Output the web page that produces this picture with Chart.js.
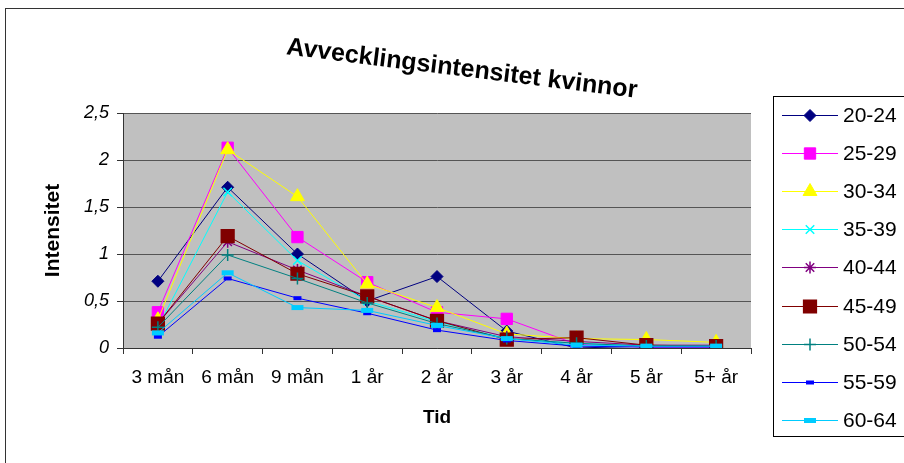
<!DOCTYPE html>
<html>
<head>
<meta charset="utf-8">
<script src="https://cdn.jsdelivr.net/npm/chart.js@4"></script>
<style>
  html, body { margin: 0; padding: 0; background: #fff; }
  canvas { display: block; }
</style>
</head>
<body>
<canvas id="myChart" width="904" height="463"></canvas>
<script>
// data
const categories = ['3 mån', '6 mån', '9 mån', '1 år', '2 år', '3 år', '4 år', '5 år', '5+ år'];
const seriesNames = ['20-24', '25-29', '30-34', '35-39', '40-44', '45-49', '50-54', '55-59', '60-64'];
const age2024 = [0.71, 1.71, 1.00, 0.50, 0.76, 0.18, 0.00, 0.02, 0.02];
const age2529 = [0.38, 2.13, 1.18, 0.70, 0.38, 0.31, 0.04, 0.01, 0.01];
const age3034 = [0.30, 2.11, 1.61, 0.68, 0.43, 0.15, 0.10, 0.09, 0.06];
const age3539 = [0.22, 1.66, 0.93, 0.50, 0.28, 0.10, 0.05, 0.02, 0.02];
const age4044 = [0.26, 1.13, 0.83, 0.55, 0.29, 0.12, 0.07, 0.03, 0.03];
const age4549 = [0.26, 1.19, 0.79, 0.55, 0.29, 0.09, 0.11, 0.03, 0.02];
const age5054 = [0.22, 0.99, 0.74, 0.48, 0.26, 0.10, 0.05, 0.02, 0.02];
const age5559 = [0.12, 0.74, 0.53, 0.37, 0.19, 0.08, 0.02, 0.01, 0.01];
const age6064 = [0.16, 0.80, 0.43, 0.40, 0.24, 0.10, 0.03, 0.02, 0.02];
const yTicks = [0, 0.5, 1, 1.5, 2, 2.5];

const seriesValues = [age2024, age2529, age3034, age3539, age4044, age4549, age5054, age5559, age6064];
const colors = ['#000080', '#FF00FF', '#FFFF00', '#00FFFF', '#800080', '#800000', '#008080', '#0000FF', '#00CCFF'];
const markers = [
    { style: 'rectRot', r: 6, bw: 1 },
    { style: 'rect', r: 8, bw: 1 },
    { style: 'triangle', r: 8, bw: 1 },
    { style: 'crossRot', r: 6, bw: 1.5 },
    { style: 'star', r: 6, bw: 1.5 },
    { style: 'rect', r: 9, bw: 1.5 },
    { style: 'cross', r: 6, bw: 1.5 },
    { style: 'line', r: 4, bw: 4 },
    { style: 'line', r: 6, bw: 5 }
];

const FONT = '"Liberation Sans", Arial, sans-serif';

// gray plot area + outer frame
const backdrop = {
    id: 'backdrop',
    beforeDraw(chart) {
        const { ctx, chartArea: a } = chart;
        ctx.save();
        ctx.fillStyle = '#fff';
        ctx.fillRect(0, 0, chart.width, chart.height);
        ctx.fillStyle = '#C0C0C0';
        ctx.fillRect(a.left, a.top, a.right - a.left, a.bottom - a.top);
        ctx.strokeStyle = '#333';
        ctx.lineWidth = 1;
        ctx.strokeRect(5.5, 8.5, 1000, 1000);
        ctx.restore();
    }
};

// tilted title
const tiltedTitle = {
    id: 'tiltedTitle',
    afterDraw(chart) {
        const ctx = chart.ctx;
        ctx.save();
        ctx.translate(461, 76);
        ctx.rotate(Math.atan2(45, 363));
        ctx.font = 'bold 25px ' + FONT;
        ctx.fillStyle = '#000';
        ctx.textAlign = 'center';
        ctx.textBaseline = 'alphabetic';
        ctx.fillText('Avvecklingsintensitet kvinnor', 0, 0);
        ctx.restore();
    }
};

// excel style legend box on the right
const sideLegend = {
    id: 'sideLegend',
    afterDraw(chart) {
        const ctx = chart.ctx;
        ctx.save();
        ctx.strokeStyle = '#000';
        ctx.lineWidth = 1;
        ctx.strokeRect(773.5, 96.5, 200, 340);
        ctx.font = '21px ' + FONT;
        ctx.textBaseline = 'middle';
        ctx.textAlign = 'left';
        chart.data.datasets.forEach((ds, i) => {
            const y = Math.round(115 + i * 38.1) + 0.5;
            ctx.strokeStyle = ds.borderColor;
            ctx.lineWidth = 1;
            ctx.beginPath();
            ctx.moveTo(782, y);
            ctx.lineTo(838, y);
            ctx.stroke();
            ctx.fillStyle = ds.pointBackgroundColor;
            ctx.strokeStyle = ds.pointBorderColor;
            ctx.lineWidth = ds.pointBorderWidth;
            Chart.helpers.drawPoint(ctx, {
                pointStyle: ds.pointStyle,
                radius: ds.pointRadius,
                borderWidth: ds.pointBorderWidth,
                rotation: 0
            }, 810, y);
            ctx.fillStyle = '#000';
            ctx.fillText(ds.label, 843, y + 1);
        });
        ctx.restore();
    }
};

const datasets = seriesNames.map((name, i) => ({
    label: name,
    data: seriesValues[i],
    borderColor: colors[i],
    backgroundColor: colors[i],
    borderWidth: 1,
    pointStyle: markers[i].style,
    pointRadius: markers[i].r,
    pointBackgroundColor: colors[i],
    pointBorderColor: colors[i],
    pointBorderWidth: markers[i].bw,
    tension: 0,
    order: seriesNames.length - i // later series on top, like Excel
}));

const ctx = document.getElementById('myChart').getContext('2d');
const myChart = new Chart(ctx, {
    type: 'line',
    data: { labels: categories, datasets: datasets },
    plugins: [backdrop, tiltedTitle, sideLegend],
    options: {
        responsive: false,
        animation: false,
        devicePixelRatio: 1,
        layout: { padding: { left: 5, right: 153, top: 113, bottom: 0 } },
        plugins: {
            legend: { display: false },
            tooltip: { enabled: false },
            title: { display: false }
        },
        scales: {
            x: {
                offset: true,
                grid: {
                    offset: true,
                    drawOnChartArea: false,
                    tickLength: 6,
                    tickColor: '#333'
                },
                border: { color: '#333', width: 1 },
                ticks: {
                    color: '#000',
                    padding: 12,
                    maxRotation: 0,
                    autoSkip: false,
                    font: { family: FONT, size: 19 }
                },
                title: {
                    display: true,
                    text: 'Tid',
                    color: '#000',
                    padding: { top: 0, bottom: 34 },
                    font: { family: FONT, size: 19, weight: 'bold' }
                },
                afterFit(scale) { scale.height = 115; }
            },
            y: {
                min: 0,
                max: 2.5,
                afterBuildTicks(scale) { scale.ticks = yTicks.map(v => ({ value: v })); },
                grid: {
                    color: '#555',
                    lineWidth: 1,
                    tickLength: 6,
                    tickColor: '#333'
                },
                border: { color: '#333', width: 1 },
                ticks: {
                    color: '#000',
                    padding: 8,
                    font: { family: FONT, size: 18, style: 'italic' },
                    callback: v => String(v).replace('.', ',')
                },
                title: {
                    display: true,
                    text: 'Intensitet',
                    color: '#000',
                    padding: { top: 36, bottom: 0 },
                    font: { family: FONT, size: 21, weight: 'bold' }
                },
                afterFit(scale) { scale.width = 118; }
            }
        }
    }
});
</script>
</body>
</html>
